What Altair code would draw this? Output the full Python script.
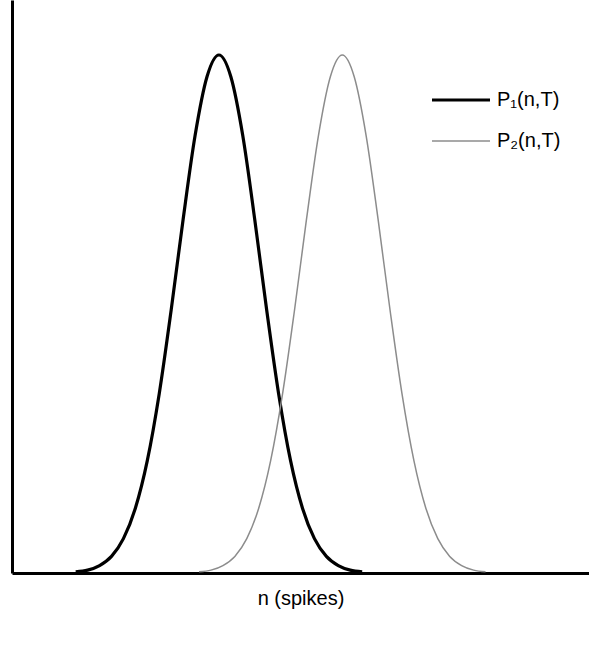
import altair as alt
import pandas as pd

# Spike-count distributions for two stimuli over a counting window T
series_names = ["P\u2081(n,T)", "P\u2082(n,T)"]

n_p1 = [16, 19, 22, 25, 28, 31, 34, 37, 40, 43, 46, 49, 52,
        55, 58, 61, 64, 67, 70, 73, 76, 79, 82, 85, 88]
p1 = [0.002, 0.005, 0.013, 0.029, 0.060, 0.113, 0.196, 0.313, 0.459, 0.617, 0.763, 0.866, 0.904,
      0.866, 0.763, 0.617, 0.459, 0.313, 0.196, 0.113, 0.060, 0.029, 0.013, 0.005, 0.002]

n_p2 = [47, 50, 53, 56, 59, 62, 65, 68, 71, 74, 77, 80, 83,
        86, 89, 92, 95, 98, 101, 104, 107, 110, 113, 116, 119]
p2 = [0.002, 0.005, 0.013, 0.029, 0.060, 0.113, 0.196, 0.313, 0.459, 0.617, 0.763, 0.866, 0.904,
      0.866, 0.763, 0.617, 0.459, 0.313, 0.196, 0.113, 0.060, 0.029, 0.013, 0.005, 0.002]

df = pd.concat([
    pd.DataFrame({"n": n_p1, "p": p1, "series": series_names[0]}),
    pd.DataFrame({"n": n_p2, "p": p2, "series": series_names[1]}),
])

legend = alt.Legend(
    title=None,
    orient="none",
    legendX=418,
    legendY=69,
    symbolType="stroke",
    symbolSize=3364,
    labelFontSize=20,
    labelFont="Liberation Sans",
    labelColor="#000000",
    labelOffset=5,
    rowPadding=1,
    padding=0,
)

chart = (
    alt.Chart(df)
    .mark_line(interpolate="monotone")
    .encode(
        x=alt.X(
            "n:Q",
            scale=alt.Scale(domain=[0, 145], nice=False, zero=False),
            axis=alt.Axis(
                title="n (spikes)",
                ticks=False,
                labels=False,
                grid=False,
                domainColor="#000000",
                domainWidth=3,
                titleFont="Liberation Sans",
                titleFontSize=20,
                titleFontWeight="normal",
                titleColor="#000000",
                titlePadding=15,
            ),
        ),
        y=alt.Y(
            "p:Q",
            scale=alt.Scale(domain=[0, 1], nice=False),
            axis=alt.Axis(
                title=None,
                ticks=False,
                labels=False,
                grid=False,
                domainColor="#000000",
                domainWidth=3,
            ),
        ),
        color=alt.Color(
            "series:N",
            scale=alt.Scale(domain=series_names, range=["#000000", "#8c8c8c"]),
            legend=legend,
        ),
        strokeWidth=alt.StrokeWidth(
            "series:N",
            scale=alt.Scale(domain=series_names, range=[3.2, 1.5]),
            legend=legend,
        ),
    )
    .properties(
        width=577,
        height=573,
        autosize=alt.AutoSizeParams(type="none"),
        padding={"left": 12, "top": 0, "right": 0, "bottom": 72},
    )
    .configure_view(stroke=None)
)

chart.save("out.html", embed_options={"renderer": "svg", "actions": False})
